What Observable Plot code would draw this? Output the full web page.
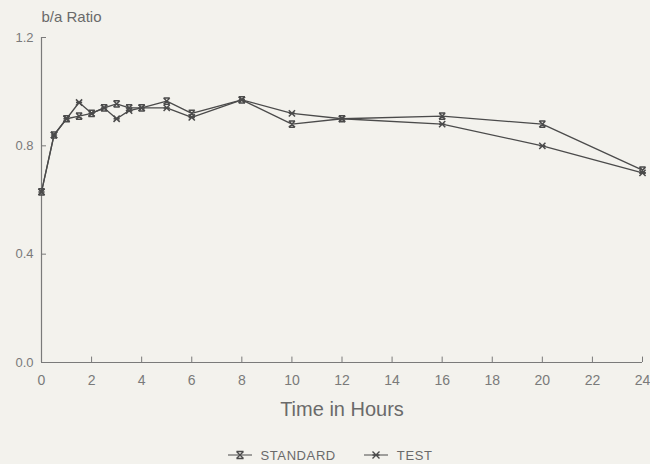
<!DOCTYPE html>
<html>
<head>
<meta charset="utf-8">
<script src="https://cdn.jsdelivr.net/npm/d3@7"></script>
<script src="https://cdn.jsdelivr.net/npm/@observablehq/plot@0.6"></script>
<style>
  html, body { margin: 0; padding: 0; background: #f3f2ed; }
  #chart { width: 650px; height: 464px; position: relative; font-family: "Liberation Sans", Arial, sans-serif; }
  #legend { position: absolute; left: 0; top: 445px; width: 650px; height: 20px; display: flex; justify-content: center; align-items: center; gap: 28px; color: #6a6a6a; font-size: 13px; letter-spacing: 0.6px; padding-left: 10px; box-sizing: border-box; }
  #legend span.item { display: inline-flex; align-items: center; gap: 9px; }
</style>
</head>
<body>
<div id="chart"></div>
<script>
// ---- data ----
const times    = [0, 0.5, 1, 1.5, 2, 2.5, 3, 3.5, 4, 5, 6, 8, 10, 12, 16, 20, 24];
const standard = [0.63, 0.84, 0.90, 0.91, 0.92, 0.94, 0.955, 0.94, 0.94, 0.965, 0.92, 0.97, 0.88, 0.90, 0.91, 0.88, 0.71];
const test     = [0.63, 0.84, 0.90, 0.96, 0.92, 0.94, 0.90, 0.93, 0.94, 0.94, 0.905, 0.97, 0.92, 0.90, 0.88, 0.80, 0.70];
const seriesNames = ["STANDARD", "TEST"];
const xTicks = [0, 2, 4, 6, 8, 10, 12, 14, 16, 18, 20, 22, 24];
const yTicks = [0, 0.4, 0.8, 1.2];
const yTitle = "b/a Ratio";
const xTitle = "Time in Hours";

const rows = [];
times.forEach((t, i) => {
  rows.push({t, v: standard[i], s: seriesNames[0]});
  rows.push({t, v: test[i], s: seriesNames[1]});
});

// custom marker symbols
const symStd = { draw(ctx, size) { const r = Math.sqrt(size) / 2;
  ctx.moveTo(-r, -r); ctx.lineTo(r, r); ctx.moveTo(r, -r); ctx.lineTo(-r, r);
  ctx.moveTo(-r, -r); ctx.lineTo(r, -r); ctx.moveTo(-r, r); ctx.lineTo(r, r); } };
const symTest = { draw(ctx, size) { const r = Math.sqrt(size) / 2;
  ctx.moveTo(-r, -r); ctx.lineTo(r, r); ctx.moveTo(r, -r); ctx.lineTo(-r, r);
  ctx.moveTo(-r, 0); ctx.lineTo(r, 0); } };

const ink = "#4b4b4b";
const axisInk = "#7a7a7a";

const plot = Plot.plot({
  width: 650,
  height: 440,
  marginLeft: 41,
  marginRight: 8,
  marginTop: 37,
  marginBottom: 78,
  style: { background: "transparent", fontFamily: "Liberation Sans, Arial, sans-serif", color: axisInk },
  x: { domain: [0, 24], ticks: xTicks },
  y: { domain: [0, 1.2], ticks: yTicks },
  marks: [
    Plot.axisX(xTicks, { tickSize: 0, tickPadding: 13, fontSize: 14, fill: axisInk, label: null }),
    Plot.axisY(yTicks, { tickSize: 0, tickPadding: 8, fontSize: 13, fill: axisInk, tickFormat: d3.format(".1f"), label: null }),
    Plot.ruleY([0], { stroke: axisInk, strokeWidth: 1.2 }),
    Plot.ruleX([0], { y1: 0, y2: 1.2, stroke: axisInk, strokeWidth: 1.2 }),
    Plot.ruleX(xTicks.slice(1), { y1: 0, y2: 0.02, stroke: axisInk }),
    Plot.ruleY(yTicks.slice(1), { x1: 0, x2: 0.2, stroke: axisInk }),
    Plot.lineY(rows, { x: "t", y: "v", z: "s", stroke: ink, strokeWidth: 1.3 }),
    Plot.dot(rows.filter(d => d.s === seriesNames[0]), { x: "t", y: "v", symbol: () => symStd, r: 3.5, stroke: ink, strokeWidth: 1.5, fill: "none" }),
    Plot.dot(rows.filter(d => d.s === seriesNames[1]), { x: "t", y: "v", symbol: () => symTest, r: 3.5, stroke: ink, strokeWidth: 1.5, fill: "none" }),
    Plot.text([yTitle], { frameAnchor: "top-left", dy: -26, dx: 0, fontSize: 15, fill: "#6a6a6a" }),
    Plot.text([xTitle], { frameAnchor: "bottom", dy: 53, fontSize: 20, fill: "#6a6a6a" })
  ]
});
document.getElementById("chart").appendChild(plot);

// legend
const legend = document.createElement("div");
legend.id = "legend";
const syms = [symStd, symTest];
seriesNames.forEach((name, i) => {
  const item = document.createElement("span");
  item.className = "item";
  const svg = d3.create("svg").attr("width", 24).attr("height", 12);
  svg.append("line").attr("x1", 0).attr("x2", 24).attr("y1", 6).attr("y2", 6).attr("stroke", ink);
  const p = d3.path(); syms[i].draw(p, 49);
  svg.append("path").attr("d", p.toString()).attr("transform", "translate(12,6)").attr("stroke", ink).attr("stroke-width", 1.4).attr("fill", "none");
  item.appendChild(svg.node());
  const label = document.createElement("span");
  label.textContent = name;
  item.appendChild(label);
  legend.appendChild(item);
});
document.getElementById("chart").appendChild(legend);
</script>
</body>
</html>
